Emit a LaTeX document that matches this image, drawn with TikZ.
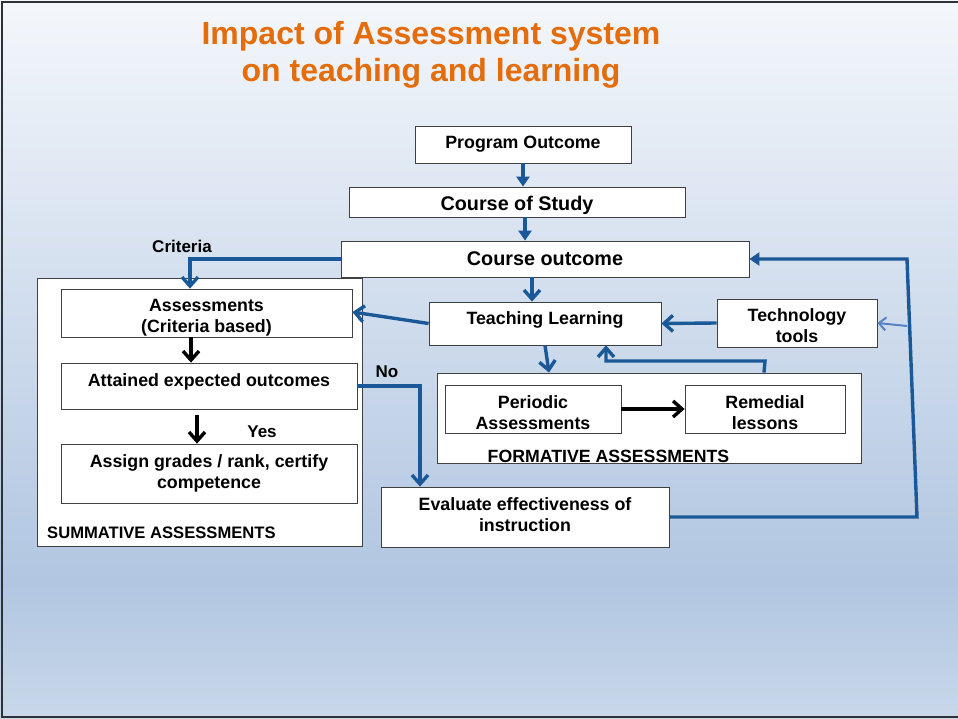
\documentclass[tikz,border=0pt]{standalone}
\usepackage{fontspec}
\setmainfont{Liberation Sans}
\usetikzlibrary{arrows.meta}
\definecolor{titleorange}{RGB}{228,108,10}
\definecolor{flowblue}{RGB}{26,88,152}
\definecolor{lightblue}{RGB}{84,130,195}
\definecolor{boxgray}{RGB}{64,64,64}
\definecolor{framegray}{RGB}{45,50,55}
\definecolor{bgtop}{RGB}{244,247,251}
\definecolor{bgmid}{RGB}{177,198,225}
\definecolor{bgbot}{RGB}{201,216,234}
\pgfdeclareverticalshading{bgshade}{100bp}{color(0bp)=(bgbot); color(25bp)=(bgbot); color(34.5bp)=(bgmid); color(75bp)=(bgtop); color(100bp)=(bgtop)}
\newcommand{\lift}[1]{\rule{0pt}{#1}}
\tikzset{
  box/.style={
    draw=boxgray,
    line width=0.8pt,
    fill=white,
    align=center,
    inner sep=0pt,
    font=\bfseries\fontsize{17.8}{21}\selectfont
  },
  bigbox/.style={box, font=\bfseries\fontsize{19.8}{23}\selectfont},
  groupbox/.style={draw=boxgray, line width=0.8pt, fill=white, inner sep=0pt},
  grouplabel/.style={inner sep=0pt, font=\bfseries\fontsize{16.6}{19}\selectfont},
  tag/.style={inner sep=0pt, font=\bfseries\fontsize{17}{20}\selectfont},
  flow/.style={draw=flowblue, line width=3.4pt, -{Straight Barb[length=9pt,width=16pt]}},
  flowtri/.style={draw=flowblue, line width=3.4pt, -{Triangle[length=10pt,width=13pt]}},
  blackflow/.style={draw=black, line width=3.4pt, -{Straight Barb[length=9pt,width=16pt]}},
  lightflow/.style={draw=lightblue, line width=2pt, -{Straight Barb[length=7pt,width=13pt]}}
}

\begin{document}
\begin{tikzpicture}[x=1pt, y=-1pt]
  \useasboundingbox (0,0) rectangle (958,719);
  % background and frame
  \shade[shading=bgshade] (0,0) rectangle (958,719);
  \draw[framegray, line width=2pt] (958,2) -- (2,2) -- (2,717) -- (958,717);

  \node[font=\bfseries\fontsize{32}{37}\selectfont, text=titleorange, align=center] (title) at (431,55) {Impact of Assessment system\\on teaching and learning};

  % main chain
  \node[box, minimum width=216pt, minimum height=37pt] (prog) at (523,144.5) {Program Outcome};
  \node[bigbox, minimum width=336pt, minimum height=30pt] (cos) at (517,202) {\lift{20.3pt}Course of Study};
  \node[bigbox, minimum width=408pt, minimum height=36pt] (co) at (545,259) {Course outcome};

  % summative part
  \node[groupbox, minimum width=325pt, minimum height=268pt] (summ) at (199.5,412) {};
  \node[box, minimum width=291pt, minimum height=48pt] (ass) at (206.5,313) {\lift{21pt}Assessments\\(Criteria based)};
  \node[box, minimum width=296pt, minimum height=46pt, text height=13pt, text depth=13pt] (att) at (209,386) {Attained expected outcomes};
  \node[box, minimum width=296pt, minimum height=59pt] (asg) at (209,473.5) {Assign grades / rank, certify\\competence};
  \node[grouplabel, anchor=west] (summlbl) at (47,533) {SUMMATIVE ASSESSMENTS};

  % teaching and formative part
  \node[box, minimum width=232pt, minimum height=43pt, text height=13pt, text depth=11pt] (tl) at (545,323.5) {Teaching Learning};
  \node[box, minimum width=160pt, minimum height=48pt] (tech) at (797,323) {\lift{19pt}Technology\\tools};
  \node[groupbox, minimum width=424pt, minimum height=90pt] (form) at (649,418) {};
  \node[box, minimum width=176pt, minimum height=48pt] (per) at (533,409) {\lift{21pt}Periodic\\Assessments};
  \node[box, minimum width=160pt, minimum height=48pt] (rem) at (765,409) {\lift{21pt}Remedial\\lessons};
  \node[grouplabel, font=\bfseries\fontsize{17.7}{20}\selectfont] (formlbl) at (608.5,456) {FORMATIVE ASSESSMENTS};
  \node[box, minimum width=288pt, minimum height=60pt] (eval) at (525,517) {Evaluate effectiveness of\\instruction\rule[-4pt]{0pt}{0pt}};

  % labels
  \node[tag] (crit) at (182,246) {Criteria};
  \node[tag] (yes) at (262,432) {Yes};
  \node[tag] (no) at (387,372) {No};

  % connectors
  \coordinate (remup) at (765,361);
  \coordinate (loopbot) at (917,517);
  \coordinate (looptop) at (907,259);
  \coordinate (techin) at (907,326);
  \draw[flowtri] (prog.south) -- (prog.south |- cos.north);
  \draw[flowtri] ([xshift=8pt]cos.south) -- ([xshift=8pt]cos.south |- co.north);
  \draw[flow] ([xshift=-13pt]co.south) -- ([xshift=-13pt]co.south |- tl.north);
  \draw[flow] (co.west) -| ([xshift=-16.5pt]ass.north);
  \draw[blackflow] ([xshift=-15.5pt]ass.south) -- ([xshift=-15.5pt]ass.south |- att.north);
  \draw[blackflow] ([xshift=-12pt,yshift=-6pt]att.south) -- ([xshift=-12pt]att.south |- asg.north);
  \draw[flow] (tl.west) -- ([yshift=1pt]ass.east);
  \draw[flow] (tech.west) -- (tl.east);
  \draw[flow] (tl.south) -- ([xshift=-100pt]form.north);
  \draw[flow] ([xshift=115pt]form.north) -- (remup) -| ([xshift=61pt]tl.south);
  \draw[blackflow] (per.east) -- (rem.west);
  \draw[flow] (att.east) -| ([xshift=-105pt]eval.north);
  \draw[flowtri] (eval.east) -- (loopbot) -- (looptop) -- (co.east);
  \draw[lightflow] (techin) -- (tech.east);
\end{tikzpicture}
\end{document}
